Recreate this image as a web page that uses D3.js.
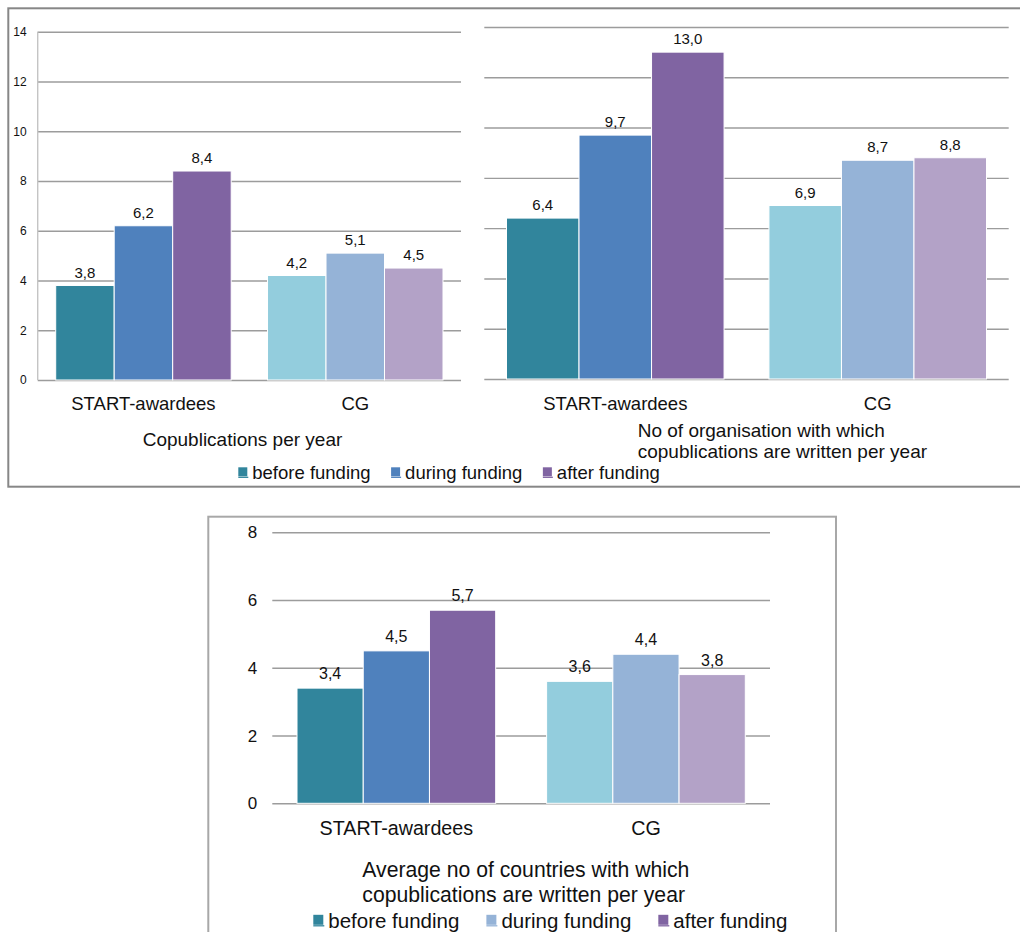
<!DOCTYPE html>
<html>
<head>
<meta charset="utf-8">
<script src="https://cdn.jsdelivr.net/npm/d3@7/dist/d3.min.js"></script>
<style>
  html, body { margin: 0; padding: 0; background: #fff; }
  svg { display: block; font-family: "Liberation Sans", Arial, sans-serif; }
</style>
</head>
<body>
<svg id="chart" width="1020" height="932"></svg>
<script>
// Groups and funding phases
const groups = ["START-awardees", "CG"];
const phases = ["before funding", "during funding", "after funding"];

// Copublications per year
const copubStart = [3.8, 6.2, 8.4];
const copubCG = [4.2, 5.1, 4.5];

// Organisations with which copublications are written per year
const orgStart = [6.4, 9.7, 13.0];
const orgCG = [6.9, 8.7, 8.8];

// Countries with which copublications are written per year
const countryStart = [3.4, 4.5, 5.7];
const countryCG = [3.6, 4.4, 3.8];

// Tick values
const ticksTop = [0, 2, 4, 6, 8, 10, 12, 14];
const ticksBottom = [0, 2, 4, 6, 8];

// Colours per phase
const startColors = ["#31859C", "#4F81BD", "#8064A2"];
const cgColors = ["#93CDDD", "#95B3D7", "#B3A2C7"];
const legendColorsTop = ["#31859C", "#4F81BD", "#8064A2"];
const legendColorsBottom = ["#31859C", "#95B3D7", "#8064A2"];

const svg = d3.select("#chart");
const fmt = v => d3.format(".1f")(v).replace(".", ",");
const textColor = "#111";

// Panel frames
svg.append("rect")
  .attr("x", 8.3).attr("y", 8.3).attr("width", 1030).attr("height", 478.4)
  .attr("fill", "none").attr("stroke", "#878787").attr("stroke-width", 2);
svg.append("rect")
  .attr("x", 208.3).attr("y", 516.7).attr("width", 627.7).attr("height", 440)
  .attr("fill", "none").attr("stroke", "#a8a8a8").attr("stroke-width", 2);

function drawBars(cfg) {
  const g = svg.append("g");
  const data = [cfg.start, cfg.cg];
  const colors = [startColors, cgColors];

  const x = d3.scaleBand().domain(groups)
    .range([cfg.left, cfg.right])
    .paddingInner(cfg.padInner).paddingOuter(cfg.padOuter);
  const xs = d3.scaleBand().domain(phases).range([0, x.bandwidth()]);
  const y = d3.scaleLinear().domain([0, cfg.max]).range([cfg.bottom, cfg.top]);

  // Gridlines and value axis
  const axis = d3.axisLeft(y)
    .tickValues(cfg.ticks)
    .tickSize(-(cfg.right - cfg.left))
    .tickPadding(cfg.tickPad)
    .tickFormat(cfg.showTicks ? d3.format("d") : () => "");
  const ax = g.append("g")
    .attr("transform", `translate(${cfg.left},0)`)
    .call(axis);
  ax.select(".domain").remove();
  ax.selectAll(".tick line").attr("stroke", "#9c9c9c").attr("stroke-width", 1.4);
  ax.selectAll(".tick text")
    .attr("fill", textColor)
    .attr("font-size", cfg.tickFont)
    .attr("font-family", "Liberation Sans, Arial, sans-serif");

  if (cfg.axisLine) {
    g.append("line")
      .attr("x1", cfg.left).attr("x2", cfg.left)
      .attr("y1", y(cfg.max)).attr("y2", y(0))
      .attr("stroke", "#c4c4c4").attr("stroke-width", 1.4);
  }

  // Bars with value labels
  groups.forEach((grp, gi) => {
    const gg = g.append("g").attr("transform", `translate(${x(grp)},0)`);
    gg.selectAll("rect")
      .data(data[gi])
      .join("rect")
      .attr("x", (d, i) => xs(phases[i]))
      .attr("y", d => y(d))
      .attr("width", xs.bandwidth())
      .attr("height", d => y(0) - y(d))
      .attr("fill", (d, i) => colors[gi][i])
      .attr("stroke", "#fff")
      .attr("stroke-width", 1);
    gg.selectAll("text")
      .data(data[gi])
      .join("text")
      .attr("x", (d, i) => xs(phases[i]) + xs.bandwidth() / 2)
      .attr("y", d => y(d) - cfg.valueGap)
      .attr("text-anchor", "middle")
      .attr("font-size", cfg.valueFont)
      .attr("fill", textColor)
      .text(d => fmt(d));
  });

  // Category labels
  g.selectAll("text.cat")
    .data(groups)
    .join("text")
    .attr("class", "cat")
    .attr("x", d => x(d) + x.bandwidth() / 2)
    .attr("y", cfg.catBaseline)
    .attr("text-anchor", "middle")
    .attr("font-size", cfg.catFont)
    .attr("fill", textColor)
    .text(d => d);
}

function drawTitle(lines, x, y0, lineH, size, anchor) {
  const t = svg.append("text")
    .attr("font-size", size)
    .attr("fill", textColor)
    .attr("text-anchor", anchor);
  lines.forEach((l, i) => {
    t.append("tspan").attr("x", x).attr("y", y0 + i * lineH).text(l);
  });
}

function drawLegend(x0, baseline, size, box, colors, gapText, gapItem) {
  let x = x0;
  phases.forEach((p, i) => {
    const top = baseline - box - 2.7;
    svg.append("rect")
      .attr("x", x).attr("y", top)
      .attr("width", box).attr("height", box)
      .attr("fill", colors[i]);
    svg.append("line")
      .attr("x1", x).attr("x2", x + box + 1)
      .attr("y1", top + box + 1).attr("y2", top + box + 1)
      .attr("stroke", colors[i]).attr("stroke-width", 1.3);
    const t = svg.append("text")
      .attr("x", x + box + gapText)
      .attr("y", baseline)
      .attr("font-size", size)
      .attr("fill", textColor)
      .text(p);
    x = x + box + gapText + t.node().getComputedTextLength() + gapItem;
  });
}

// Copublications per year
drawBars({
  start: copubStart, cg: copubCG, ticks: ticksTop, max: 14,
  left: 37.7, right: 461, top: 31.7, bottom: 380,
  padInner: 0.1716, padOuter: 0.085,
  showTicks: true, tickPad: 11, tickFont: 12, axisLine: true,
  valueFont: 15, valueGap: 7.7, catFont: 18.5, catBaseline: 410
});
drawTitle(["Copublications per year"], 242.5, 445.5, 0, 19, "middle");

// Organisations per year
drawBars({
  start: orgStart, cg: orgCG, ticks: ticksTop, max: 14,
  left: 484.3, right: 1008.7, top: 27, bottom: 379,
  padInner: 0.171, padOuter: 0.0846,
  showTicks: false, tickPad: 8, tickFont: 12, axisLine: false,
  valueFont: 15, valueGap: 7.8, catFont: 18.5, catBaseline: 410
});
drawTitle(["No of organisation with which", "copublications are written per year"],
  637.7, 437, 21, 19, "start");

drawLegend(238.3, 479, 18.5, 9, legendColorsTop, 5, 20.5);

// Countries per year
drawBars({
  start: countryStart, cg: countryCG, ticks: ticksBottom, max: 8,
  left: 272.3, right: 770, top: 532.3, bottom: 803.3,
  padInner: 0.204, padOuter: 0.099,
  showTicks: true, tickPad: 15, tickFont: 17, axisLine: false,
  valueFont: 16, valueGap: 9, catFont: 19.7, catBaseline: 835
});
drawTitle(["Average no of countries with which", "copublications are written per year"],
  362.3, 877.3, 24.5, 21.2, "start");

drawLegend(313.3, 927.5, 20.5, 10, legendColorsBottom, 5, 27);
</script>
</body>
</html>
